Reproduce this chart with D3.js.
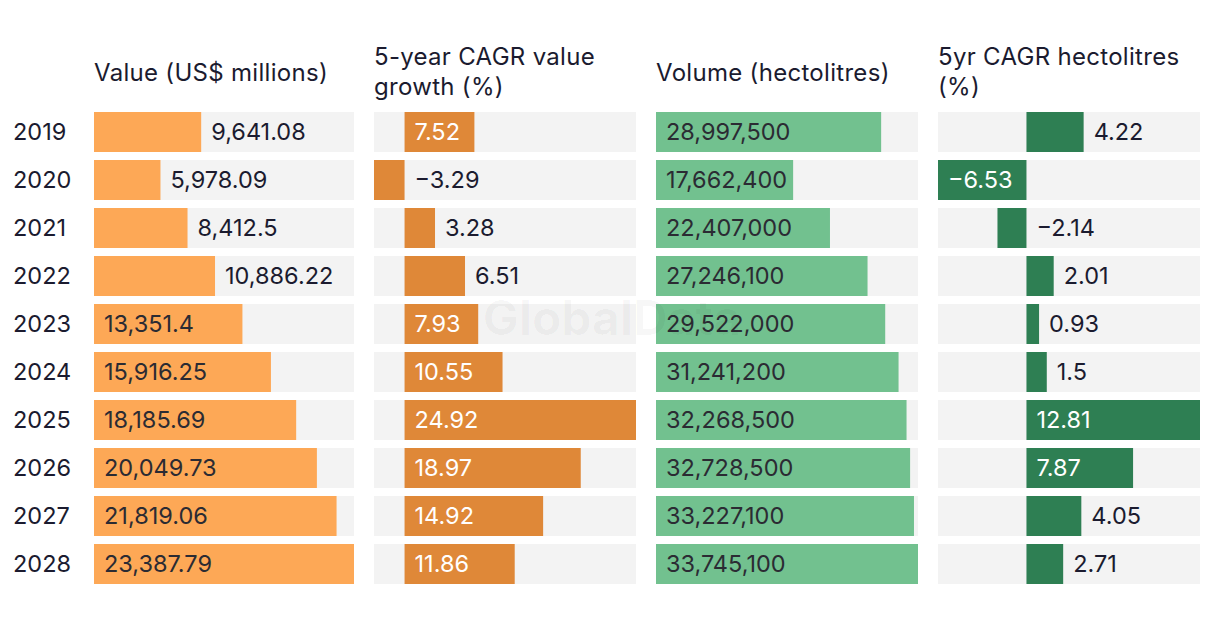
<!DOCTYPE html>
<html>
<head>
<meta charset="utf-8">
<script src="https://cdn.jsdelivr.net/npm/d3@7"></script>
<style>
  html, body { margin: 0; padding: 0; background: #fff; }
  svg { display: block; font-family: "Inter", "Roboto", sans-serif; }
</style>
</head>
<body>
<svg id="chart" width="1220" height="626"></svg>
<script>
// ---- Data ----
const years = ["2019","2020","2021","2022","2023","2024","2025","2026","2027","2028"];
const valueUSD = [9641.08, 5978.09, 8412.5, 10886.22, 13351.4, 15916.25, 18185.69, 20049.73, 21819.06, 23387.79];
const valueCAGR = [7.52, -3.29, 3.28, 6.51, 7.93, 10.55, 24.92, 18.97, 14.92, 11.86];
const volumeHl = [28997500, 17662400, 22407000, 27246100, 29522000, 31241200, 32268500, 32728500, 33227100, 33745100];
const volumeCAGR = [4.22, -6.53, -2.14, 2.01, 0.93, 1.5, 12.81, 7.87, 4.05, 2.71];
const headers = [
  ["Value (US$ millions)"],
  ["5-year CAGR value", "growth (%)"],
  ["Volume (hectolitres)"],
  ["5yr CAGR hectolitres", "(%)"]
];

const fmtVal = v => d3.format(",")(v);
const fmtPct = v => (v < 0 ? "\u2212" + Math.abs(v) : String(v));

const panels = [
  { values: valueUSD,   x0: 94,  fmt: fmtVal, color: "#FDA856", inText: "#2b2b33" },
  { values: valueCAGR,  x0: 374, fmt: fmtPct, color: "#DF8838", inText: "#ffffff" },
  { values: volumeHl,   x0: 656, fmt: fmtVal, color: "#72C18F", inText: "#2b2b33" },
  { values: volumeCAGR, x0: 938, fmt: fmtPct, color: "#2E7F53", inText: "#ffffff" }
];
const panelW = [260, 262, 262, 262];
const outText = "#1b1b2f";
const numSize = 23.5;
const headSize = 24;

const svg = d3.select("#chart");

const y = d3.scaleBand().domain(years).range([112, 584]).paddingInner(1/6).paddingOuter(0);

// Year labels
svg.append("g").selectAll("text").data(years).join("text")
  .attr("x", 13)
  .attr("y", d => y(d) + y.bandwidth() / 2)
  .attr("dy", "0.35em")
  .attr("font-size", numSize)
  .attr("fill", outText)
  .text(d => d);

panels.forEach((p, i) => {
  const mn = Math.min(0, d3.min(p.values));
  const mx = d3.max(p.values);
  const x = d3.scaleLinear().domain([mn, mx]).range([p.x0, p.x0 + panelW[i]]);
  const g = svg.append("g");

  // header
  const h = headers[i];
  const ht = g.append("text").attr("font-size", headSize).attr("letter-spacing", 0.3).attr("fill", outText);
  if (h.length === 1) {
    ht.append("tspan").attr("x", p.x0).attr("y", 73).attr("dy", "0.35em").text(h[0]);
  } else {
    h.forEach((line, k) => {
      ht.append("tspan").attr("x", p.x0).attr("y", 57 + k * 30).attr("dy", "0.35em").text(line);
    });
  }

  // background
  g.selectAll("rect.bg").data(years).join("rect")
    .attr("class", "bg")
    .attr("x", x.range()[0])
    .attr("width", x.range()[1] - x.range()[0])
    .attr("y", d => y(d))
    .attr("height", y.bandwidth())
    .attr("fill", "#F3F3F3");

  // bars
  g.selectAll("rect.bar").data(p.values).join("rect")
    .attr("class", "bar")
    .attr("x", v => x(Math.min(0, v)))
    .attr("width", v => Math.abs(x(v) - x(0)))
    .attr("y", (v, k) => y(years[k]))
    .attr("height", y.bandwidth())
    .attr("fill", p.color);

  // labels
  g.selectAll("text.lbl").data(p.values).join("text")
    .attr("class", "lbl")
    .each(function(v, k) {
      const label = p.fmt(v);
      const bw = Math.abs(x(v) - x(0));
      const inside = 10 + label.length * 12.7 <= bw;
      const lx = inside ? x(Math.min(0, v)) + 10 : (v >= 0 ? x(v) : x(0)) + 10;
      d3.select(this)
        .attr("x", lx)
        .attr("y", y(years[k]) + y.bandwidth() / 2)
        .attr("dy", "0.35em")
        .attr("font-size", numSize)
        .attr("fill", inside ? p.inText : outText)
        .text(label);
    });
});

// watermark
svg.append("text")
  .attr("x", 612).attr("y", 318)
  .attr("text-anchor", "middle").attr("dy", "0.35em")
  .attr("font-size", 48).attr("font-weight", 700)
  .attr("fill", "#000").attr("fill-opacity", 0.03)
  .text("GlobalData");
</script>
</body>
</html>
